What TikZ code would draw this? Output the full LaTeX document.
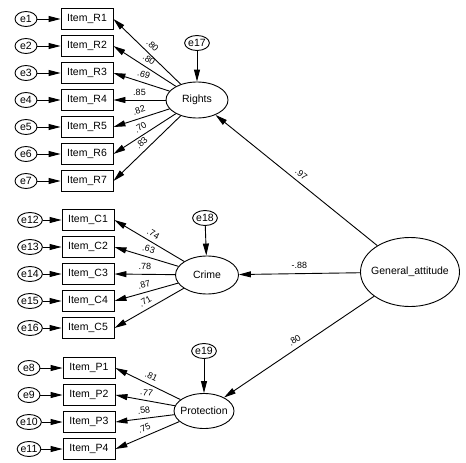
\documentclass[tikz,border=0pt]{standalone}
\usepackage{fontspec}
\setmainfont{Liberation Sans}
\usetikzlibrary{arrows.meta,shapes.geometric}

\tikzset{
  item/.style={draw,line width=0.9pt,minimum width=52pt,minimum height=21pt,inner sep=0pt},
  err/.style={draw,ellipse,line width=0.9pt,minimum width=22pt,minimum height=15pt,inner sep=0pt},
  latent/.style={draw,ellipse,line width=0.9pt,inner sep=0pt},
  arr/.style={-{Triangle[length=12pt,width=6pt]},line width=0.9pt},
  coef/.style={font=\fontsize{9}{10}\selectfont,sloped,above=1pt}
}

\begin{document}
\begin{tikzpicture}[x=1pt,y=-1pt,font=\fontsize{10.5}{12}\selectfont]

  \useasboundingbox (0,0) rectangle (466,463);

  \node[latent,minimum width=62pt,minimum height=36pt,label=center:Rights] (rights) at (197,100) {};
  \node[latent,minimum width=63pt,minimum height=38pt,label=center:Crime] (crime) at (207,275) {};
  \node[latent,minimum width=60pt,minimum height=35pt,label=center:Protection] (protection) at (204,411) {};
  \node[latent,minimum width=99pt,minimum height=69pt,label=center:General\_attitude] (general) at (410,272) {};

  \node[err] (e17) at (197,43) {e17};
  \node[err] (e18) at (205,218) {e18};
  \node[err] (e19) at (204,351) {e19};

  \foreach \n/\e/\l [count=\i from 0] in {1/1/.80,2/2/.80,3/3/.69,4/4/.85,5/5/.82,6/6/.70,7/7/.83} {
    \node[item] (r\n) at (87,19+27*\i) {Item\_R\n};
    \node[err] (e\e) at (26,19+27*\i) {e\e};
    \draw[arr] (e\e) -- (r\n);
    \draw[arr] (rights) -- node[coef] {\l} (r\n.east);
  }

  \foreach \n/\e/\l [count=\i from 0] in {1/12/.74,2/13/.63,3/14/.78,4/15/.87,5/16/.71} {
    \node[item] (c\n) at (88,220+27*\i) {Item\_C\n};
    \node[err] (e\e) at (30,220+27*\i) {e\e};
    \draw[arr] (e\e) -- (c\n);
    \draw[arr] (crime) -- node[coef] {\l} (c\n.east);
  }

  \foreach \n/\e/\l [count=\i from 0] in {1/8/.81,2/9/.77,3/10/.58,4/11/.75} {
    \node[item] (p\n) at (89,368+27*\i) {Item\_P\n};
    \node[err] (e\e) at (29,368+27*\i) {e\e};
    \draw[arr] (e\e) -- (p\n);
    \draw[arr] (protection) -- node[coef] {\l} (p\n.east);
  }

  \draw[arr] (e17) -- (rights);
  \draw[arr] (e18) -- (crime);
  \draw[arr] (e19) -- (protection);

  \draw[arr] (general) -- node[coef] {.97} (rights);
  \draw[arr] (general) -- node[coef] {-.88} (crime);
  \draw[arr] (general) -- node[coef] {.80} (protection);

\end{tikzpicture}
\end{document}
